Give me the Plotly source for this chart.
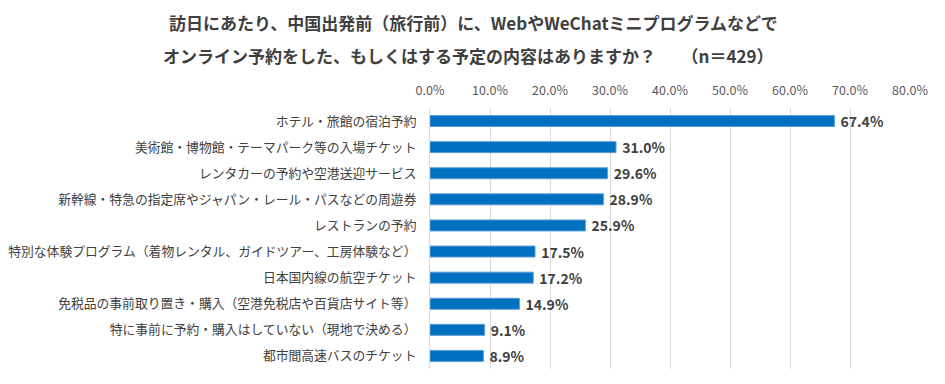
import plotly.graph_objects as go

categories = [
    "ホテル・旅館の宿泊予約",
    "美術館・博物館・テーマパーク等の入場チケット",
    "レンタカーの予約や空港送迎サービス",
    "新幹線・特急の指定席やジャパン・レール・パスなどの周遊券",
    "レストランの予約",
    "特別な体験プログラム（着物レンタル、ガイドツアー、工房体験など）",
    "日本国内線の航空チケット",
    "免税品の事前取り置き・購入（空港免税店や百貨店サイト等）",
    "特に事前に予約・購入はしていない（現地で決める）",
    "都市間高速バスのチケット",
]
values = [67.4, 31.0, 29.6, 28.9, 25.9, 17.5, 17.2, 14.9, 9.1, 8.9]
tick_vals = [0, 10, 20, 30, 40, 50, 60, 70, 80]
tick_text = ["0.0%", "10.0%", "20.0%", "30.0%", "40.0%", "50.0%", "60.0%", "70.0%", "80.0%"]
title_line1 = "訪日にあたり、中国出発前（旅行前）に、WebやWeChatミニプログラムなどで"
title_line2 = "オンライン予約をした、もしくはする予定の内容はありますか？　　（n＝429）"

FONT = "Noto Sans CJK JP"

fig = go.Figure()
fig.add_trace(go.Bar(
    y=categories,
    x=values,
    orientation="h",
    width=0.42,
    marker=dict(color="#0070C0", line=dict(color="#5B9BD5", width=1)),
    text=[f"{v:.1f}%" for v in values],
    textposition="outside",
    constraintext="none",
    textfont=dict(family=FONT, size=14, color="#404040"),
    texttemplate="\u00a0<b>%{text}</b>",
    cliponaxis=False,
))

# page body has an 8px default margin, so the figure is offset by 8px
fig.update_layout(
    width=937, height=376,
    margin=dict(l=422, r=35, t=100, b=15, autoexpand=False),
    paper_bgcolor="white", plot_bgcolor="white",
    showlegend=False,
    font=dict(family=FONT),
    xaxis=dict(
        range=[0, 80], side="top",
        tickvals=tick_vals, ticktext=tick_text,
        tickfont=dict(family=FONT, size=12.5, color="#595959"),
        showgrid=True, gridcolor="#D9D9D9", gridwidth=1,
        zeroline=False, showline=False, ticks="",
        automargin=False, ticklabelstandoff=10,
        fixedrange=True,
    ),
    yaxis=dict(
        autorange="reversed",
        tickfont=dict(family=FONT, size=12.8, color="#404040"),
        showgrid=False, ticks="", showline=True, linecolor="#D9D9D9",
        automargin=False, ticklabelstandoff=10,
    ),
    annotations=[
        dict(text="<b>" + title_line1 + "</b>", x=(473 - 430) / 480, y=(369 - 22) / 261,
             xref="paper", yref="paper", xanchor="center", yanchor="middle",
             showarrow=False, font=dict(family=FONT, size=17, color="#404040")),
        dict(text="<b>" + title_line2 + "</b>", x=(468 - 430) / 480, y=(369 - 55) / 261,
             xref="paper", yref="paper", xanchor="center", yanchor="middle",
             showarrow=False, font=dict(family=FONT, size=17, color="#404040")),
    ],
)

fig.write_html("out.html")
